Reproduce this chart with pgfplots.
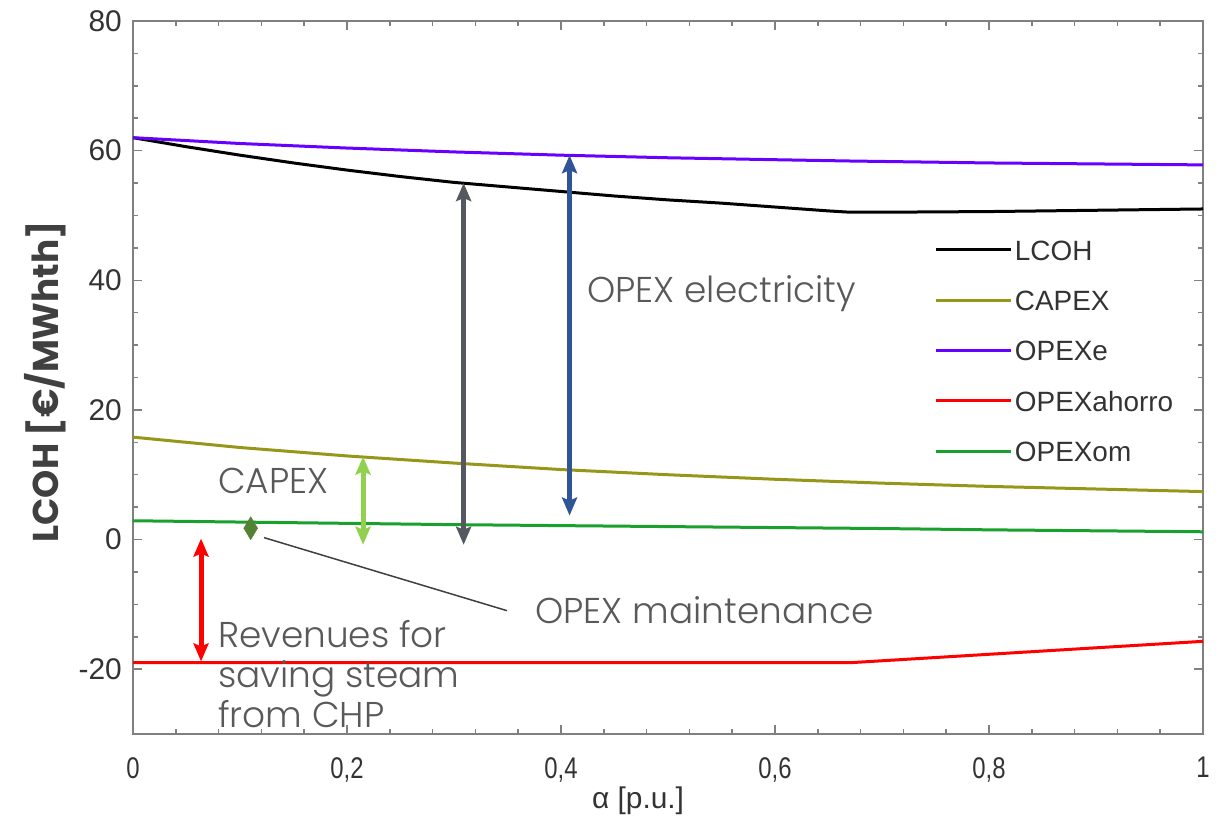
\documentclass[border=0pt]{standalone}
\usepackage{pgfplots}
\pgfplotsset{compat=1.18}
\usepackage{pgfplotstable}
\usetikzlibrary{arrows.meta}
\usepackage{fontspec}
\setmainfont{Liberation Sans}
\IfFontExistsTF{Poppins Light}
  {\newfontfamily\annotfont{Poppins Light}}
  {\newfontfamily\annotfont{Poppins}}
\newfontfamily\boldlabelfont{Poppins}
\newfontfamily\narrowfont{Liberation Sans}[FakeStretch=0.8]

\definecolor{capexcol}{RGB}{150,150,25}
\definecolor{opexecol}{RGB}{102,0,255}
\definecolor{ahorrocol}{RGB}{255,0,0}
\definecolor{omcol}{RGB}{25,160,45}
\definecolor{annotgray}{RGB}{89,89,89}
\definecolor{labelgray}{RGB}{64,64,64}
\definecolor{arrowgray}{RGB}{85,88,95}
\definecolor{arrowblue}{RGB}{47,85,151}
\definecolor{arrowlime}{RGB}{146,208,80}
\definecolor{diamondgreen}{RGB}{84,130,53}
\definecolor{framegray}{RGB}{128,128,128}

% Levelized cost of heat and its components versus alpha
\pgfplotstableread{
x     y
0.00  62.0
0.05  60.6
0.10  59.3
0.15  58.1
0.20  57.0
0.25  56.0
0.30  55.1
0.35  54.4
0.40  53.7
0.45  53.0
0.50  52.4
0.55  51.9
0.60  51.3
0.65  50.7
0.67  50.5
0.70  50.5
0.80  50.6
0.90  50.8
1.00  51.0
}\lcoh

\pgfplotstableread{
x     y
0.00  15.8
0.10  14.2
0.20  12.9
0.30  11.8
0.40  10.8
0.50  10.0
0.60   9.3
0.70   8.7
0.80   8.2
0.90   7.8
1.00   7.4
}\capex

\pgfplotstableread{
x     y
0.00  62.0
0.10  61.1
0.20  60.4
0.30  59.8
0.40  59.3
0.50  58.9
0.60  58.6
0.67  58.4
0.80  58.1
1.00  57.8
}\opexe

\pgfplotstableread{
x     y
0.00  -19.0
0.67  -19.0
1.00  -15.7
}\ahorro

\pgfplotstableread{
x     y
0.00  2.9
0.10  2.7
0.20  2.5
0.30  2.3
0.40  2.15
0.50  2.0
0.60  1.85
0.70  1.7
0.80  1.5
0.90  1.35
1.00  1.2
}\opexom

\tikzset{
  dbl/.style={line width=5bp,
    {Stealth[length=18bp,width=15bp,inset=3bp]}-{Stealth[length=18bp,width=15bp,inset=3bp]}},
  note/.style={font=\annotfont\fontsize{36}{43}\selectfont, text=annotgray,
    inner sep=0pt, anchor=base west},
}

\begin{document}
\begin{tikzpicture}
\begin{axis}[
  scale only axis, width=1070bp, height=713bp,
  xmin=0, xmax=1, ymin=-30, ymax=80,
  clip=false,
  axis line style={framegray, line width=2bp},
  tick style={framegray, line width=1.5bp},
  major tick length=9bp, minor tick length=5bp,
  xtick={0,0.2,0.4,0.6,0.8,1},
  xticklabels={0,{0,2},{0,4},{0,6},{0,8},1},
  minor x tick num=4,
  ytick={-20,0,20,40,60,80},
  yticklabels={-20,0,20,40,60,80},
  minor y tick num=3,
  /pgf/number format/assume math mode=true,
  xticklabel style={font=\narrowfont\fontsize{30}{30}\selectfont, text=black!80,
    inner sep=0pt, anchor=north, yshift=-23bp},
  yticklabel style={font=\fontsize{30}{30}\selectfont, text=black!80,
    inner sep=0pt, anchor=east, xshift=-11bp},
  xlabel={α [p.u.]},
  xlabel style={font=\fontsize{30}{30}\selectfont, text=black!80, inner sep=0pt,
    at={(axis description cs:0.472,0)}, anchor=center, yshift=-67bp},
  ylabel={LCOH [€/MWhth]},
  ylabel style={font=\boldlabelfont\bfseries\fontsize{36}{40}\selectfont, text=labelgray,
    inner sep=0pt, at={(axis description cs:0,0.494)}, anchor=center, yshift=88bp},
  legend cell align=left,
  legend image code/.code={\draw[#1, line width=3bp] (0bp,0bp) -- (75bp,0bp);},
  legend style={draw=none, fill=none, inner sep=0pt, outer sep=0pt,
    at={(rel axis cs:0.7495,0.694)}, anchor=north west,
    row sep=29.4bp, column sep=2bp,
    nodes={inner sep=0pt, text height=21bp, text depth=0bp,
      font=\fontsize{28}{28}\selectfont, text=black!80}},
]
\addplot[black, line width=3bp] table {\lcoh};
\addlegendentry{LCOH}
\addplot[capexcol, line width=3bp] table {\capex};
\addlegendentry{CAPEX}
\addplot[opexecol, line width=3bp] table {\opexe};
\addlegendentry{OPEXe}
\addplot[ahorrocol, line width=3bp] table {\ahorro};
\addlegendentry{OPEXahorro}
\addplot[omcol, line width=3bp] table {\opexom};
\addlegendentry{OPEXom}

% cost component arrows
\addplot[forget plot, dbl, ahorrocol] coordinates {(0.0636,0.15) (0.0636,-18.8)};
\addplot[forget plot, dbl, arrowlime] coordinates {(0.215,-0.8) (0.215,12.8)};
\addplot[forget plot, dbl, arrowgray] coordinates {(0.309,-0.8) (0.309,55.0)};
\addplot[forget plot, dbl, arrowblue] coordinates {(0.408,3.7) (0.408,59.3)};

% maintenance marker and leader line
\addplot[forget plot, labelgray, line width=1.5bp] coordinates {(0.1224,0.3) (0.3495,-10.97)};
\addplot[forget plot, only marks, mark=diamond*, mark size=11.5bp,
  mark options={fill=diamondgreen, draw=diamondgreen, xscale=0.8}] coordinates {(0.110,1.75)};

\node[note] at (axis cs:0.4243,36.6) {OPEX electricity};
\node[note] at (axis cs:0.0794,7.1) {CAPEX};
\node[note] at (axis cs:0.3757,-13.0) {OPEX maintenance};
\node[note] at (axis cs:0.0794,-16.6) {Revenues for};
\node[note] at (axis cs:0.0794,-22.8) {saving steam};
\node[note] at (axis cs:0.0794,-29.0) {from CHP};
\end{axis}
\pgfresetboundingbox
\path ([shift={(-133bp,-92bp)}]current axis.south west) rectangle ([shift={(24bp,21bp)}]current axis.north east);
\end{tikzpicture}
\end{document}
